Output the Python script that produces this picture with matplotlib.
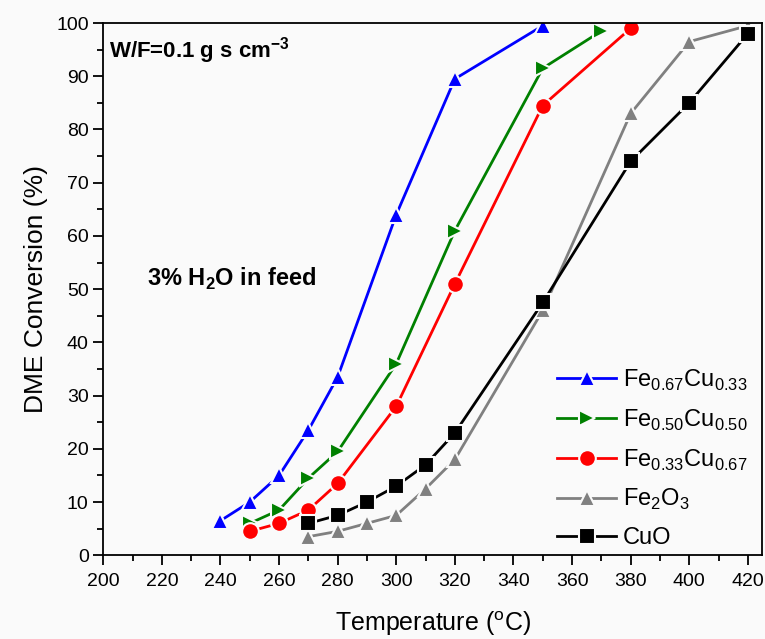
import matplotlib
matplotlib.use("Agg")
from matplotlib import pyplot as plt

plt.rcParams['font.family'] = ['Liberation Sans', 'DejaVu Sans']
plt.rcParams['mathtext.fontset'] = 'custom'
plt.rcParams['mathtext.rm'] = 'Liberation Sans'
plt.rcParams['mathtext.bf'] = 'Liberation Sans:bold'

# data
t_fe67 = [240, 250, 260, 270, 280, 300, 320, 350]
c_fe67 = [6.5, 10, 15, 23.5, 33.5, 64, 89.5, 99.5]
t_fe50 = [250, 260, 270, 280, 300, 320, 350, 370]
c_fe50 = [6, 8.5, 14.5, 19.5, 36, 61, 91.5, 98.5]
t_fe33 = [250, 260, 270, 280, 300, 320, 350, 380]
c_fe33 = [4.5, 6, 8.5, 13.5, 28, 51, 84.5, 99]
t_fe2o3 = [270, 280, 290, 300, 310, 320, 350, 380, 400, 420]
c_fe2o3 = [3.5, 4.5, 6, 7.5, 12.5, 18, 46, 83, 96.5, 99.5]
t_cuo = [270, 280, 290, 300, 310, 320, 350, 380, 400, 420]
c_cuo = [6, 7.5, 10, 13, 17, 23, 47.5, 74, 85, 98]

series = [
    (t_fe67, c_fe67, "blue", "^", r"Fe$_{0.67}$Cu$_{0.33}$"),
    (t_fe50, c_fe50, "green", ">", r"Fe$_{0.50}$Cu$_{0.50}$"),
    (t_fe33, c_fe33, "red", "o", r"Fe$_{0.33}$Cu$_{0.67}$"),
    (t_fe2o3, c_fe2o3, "gray", "^", r"Fe$_2$O$_3$"),
    (t_cuo, c_cuo, "black", "s", "CuO"),
]

bg = "#fafafa"
fig = plt.figure(figsize=(7.65, 6.39), dpi=100, facecolor=bg)
ax = fig.add_axes([0.135, 0.131, 0.861, 0.833], facecolor=bg)

for t, c, col, m, lab in series:
    ax.plot(t, c, color=col, marker=m, markersize=12, lw=2,
            markeredgecolor=bg, markeredgewidth=1.5, label=lab)

ax.set_xlim(200, 424.8)
ax.set_ylim(0, 100)
ax.set_xticks(range(200, 421, 20))
ax.set_xticks(range(210, 421, 20), minor=True)
ax.set_yticks(range(0, 101, 10))
ax.set_yticks(range(5, 100, 10), minor=True)
ax.tick_params(axis="both", which="both", direction="out", labelsize=14)
ax.tick_params(axis="x", which="major", pad=6)
ax.tick_params(which="major", length=7, width=1.3)
ax.tick_params(which="minor", length=4, width=1.3)
for s in ax.spines.values():
    s.set_linewidth(1.3)

ax.set_xlabel("Temperature ($^{\\rm o}$C)", fontsize=18, labelpad=14)
ax.set_ylabel("DME Conversion (%)", fontsize=19, labelpad=6)

ax.text(0.008, 0.978, r"W/F=0.1 g s cm$^{\mathbf{-3}}$", transform=ax.transAxes,
        fontsize=16, fontweight="bold", va="top", ha="left")
ax.text(0.066, 0.52, r"3% H$_{\mathbf{2}}$O in feed", transform=ax.transAxes,
        fontsize=17, fontweight="bold", va="center", ha="left")

ax.legend(loc="lower right", bbox_to_anchor=(1.0, -0.015), frameon=False,
          fontsize=17, handlelength=2.5, labelspacing=0.62,
          borderaxespad=0.2, handletextpad=0.3)

fig.savefig("out.png", dpi=100, facecolor=fig.get_facecolor())
